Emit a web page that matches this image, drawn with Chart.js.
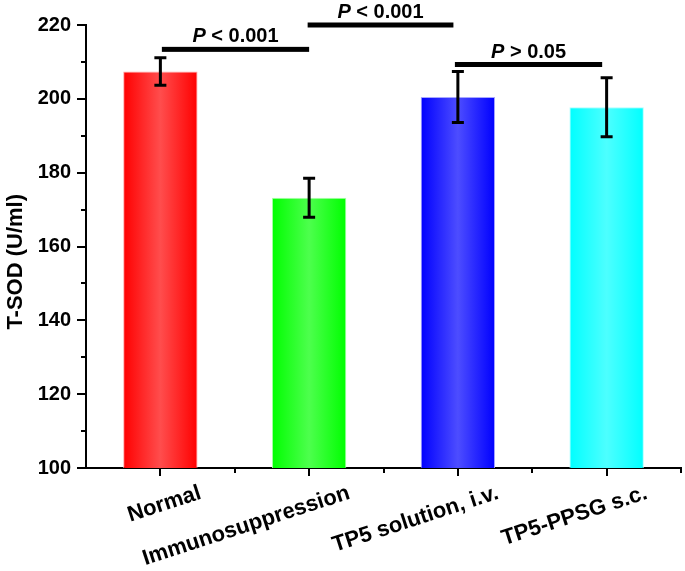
<!DOCTYPE html>
<html>
<head>
<meta charset="utf-8">
<script src="https://cdn.jsdelivr.net/npm/chart.js@4.4.1/dist/chart.umd.min.js"></script>
<style>
  body { margin: 0; background: #fff; }
</style>
</head>
<body>
<canvas id="chart" width="685" height="571"></canvas>
<script>
// values
const groups = ['Normal', 'Immunosuppression', 'TP5 solution, i.v.', 'TP5-PPSG s.c.'];
const sodMean = [207.4, 173.2, 200.5, 197.7];
const sodErr = [3.7, 5.3, 6.9, 8.0];

const edgeColors = ['#ff0000', '#00ff00', '#0000ff', '#00ffff'];
const centerColors = ['#ff4d4d', '#4dff4d', '#4d4dff', '#4dffff'];
const borderColors = ['#ffa8a8', '#a8ffa8', '#a8a8ff', '#a8ffff'];

// significance brackets (category index from/to, y value, label)
const bracketFrom = [0.01, 0.99, 1.98];
const bracketTo = [1.0, 1.97, 2.97];
const bracketY = [213.4, 220, 209.3];
const bracketText = [' < 0.001', ' < 0.001', ' > 0.05'];

const FONT = "'Liberation Sans', Arial, sans-serif";

function barGradient(ctx) {
  const i = ctx.dataIndex;
  const chart = ctx.chart;
  const xs = chart.scales.x;
  if (ctx.type !== 'data' || !xs || !chart.chartArea) return edgeColors[i] || '#000';
  const cx = xs.getPixelForValue(i);
  const w = xs.width / groups.length * 0.5;
  const g = chart.ctx.createLinearGradient(cx - w / 2, 0, cx + w / 2, 0);
  g.addColorStop(0, edgeColors[i]);
  g.addColorStop(0.5, centerColors[i]);
  g.addColorStop(1, edgeColors[i]);
  return g;
}

const extras = {
  id: 'extras',
  afterDatasetsDraw(chart) {
    const { ctx, scales: { x, y } } = chart;
    ctx.save();
    ctx.strokeStyle = '#000';
    ctx.lineWidth = 3;
    ctx.lineCap = 'butt';
    // error bars
    sodMean.forEach((m, i) => {
      const px = x.getPixelForValue(i);
      const top = y.getPixelForValue(m + sodErr[i]);
      const bot = y.getPixelForValue(m - sodErr[i]);
      ctx.beginPath();
      ctx.moveTo(px, top);
      ctx.lineTo(px, bot);
      ctx.moveTo(px - 6, top);
      ctx.lineTo(px + 6, top);
      ctx.moveTo(px - 6, bot);
      ctx.lineTo(px + 6, bot);
      ctx.stroke();
    });
    ctx.restore();
  },
  afterDraw(chart) {
    const { ctx, scales: { x, y } } = chart;
    ctx.save();
    ctx.strokeStyle = '#000';
    ctx.lineWidth = 2;
    // minor ticks on y
    for (let v = 110; v < 220; v += 20) {
      const py = Math.round(y.getPixelForValue(v));
      ctx.beginPath();
      ctx.moveTo(x.left - 5, py);
      ctx.lineTo(x.left, py);
      ctx.stroke();
    }
    // minor ticks on x, between categories
    for (let k = 0.5; k < groups.length; k += 1) {
      const px = Math.round(x.getPixelForValue(k));
      ctx.beginPath();
      ctx.moveTo(px, y.bottom);
      ctx.lineTo(px, y.bottom + 5);
      ctx.stroke();
    }
    // brackets
    bracketY.forEach((v, i) => {
      const x1 = x.getPixelForValue(bracketFrom[i]);
      const x2 = x.getPixelForValue(bracketTo[i]);
      const py = y.getPixelForValue(v);
      ctx.fillStyle = '#000';
      ctx.fillRect(x1, py - 2.5, x2 - x1, 5);
      ctx.font = 'italic bold 20px ' + FONT;
      const wp = ctx.measureText('P').width;
      ctx.font = 'bold 20px ' + FONT;
      const wr = ctx.measureText(bracketText[i]).width;
      const start = (x1 + x2) / 2 - (wp + wr) / 2;
      ctx.textBaseline = 'alphabetic';
      ctx.textAlign = 'left';
      ctx.font = 'italic bold 20px ' + FONT;
      ctx.fillText('P', start, py - 7);
      ctx.font = 'bold 20px ' + FONT;
      ctx.fillText(bracketText[i], start + wp, py - 7);
    });
    ctx.restore();
  }
};

new Chart(document.getElementById('chart'), {
  type: 'bar',
  data: {
    labels: groups,
    datasets: [{
      label: 'T-SOD',
      data: sodMean,
      backgroundColor: barGradient,
      borderColor: borderColors,
      borderWidth: 1,
      barPercentage: 0.5,
      categoryPercentage: 1.0
    }]
  },
  options: {
    responsive: false,
    animation: false,
    layout: { padding: { top: 25, right: 4, left: 0, bottom: 0 } },
    plugins: {
      legend: { display: false },
      tooltip: { enabled: false }
    },
    scales: {
      x: {
        grid: { drawOnChartArea: false, offset: false, tickLength: 8, color: '#000', lineWidth: 2 },
        border: { color: '#000', width: 2 },
        ticks: {
          color: '#000',
          font: { family: FONT, size: 22, weight: 'bold' },
          minRotation: 18,
          maxRotation: 18,
          labelOffset: 40,
          padding: 4,
          autoSkip: false
        },
        afterFit(scale) { scale.height = 103; }
      },
      y: {
        min: 100,
        max: 220,
        grid: { drawOnChartArea: false, tickLength: 9, color: '#000', lineWidth: 2 },
        border: { color: '#000', width: 2 },
        ticks: {
          stepSize: 20,
          color: '#000',
          padding: 6,
          font: { family: FONT, size: 20, weight: 'bold' }
        },
        title: {
          display: true,
          // trailing spaces nudge the title down like the original
          text: 'T-SOD (U/ml)     ',
          color: '#000',
          padding: { top: 3, bottom: 0 },
          font: { family: FONT, size: 22, weight: 'bold' }
        },
        afterFit(scale) { scale.width = 86; }
      }
    }
  },
  plugins: [extras]
});
</script>
</body>
</html>
